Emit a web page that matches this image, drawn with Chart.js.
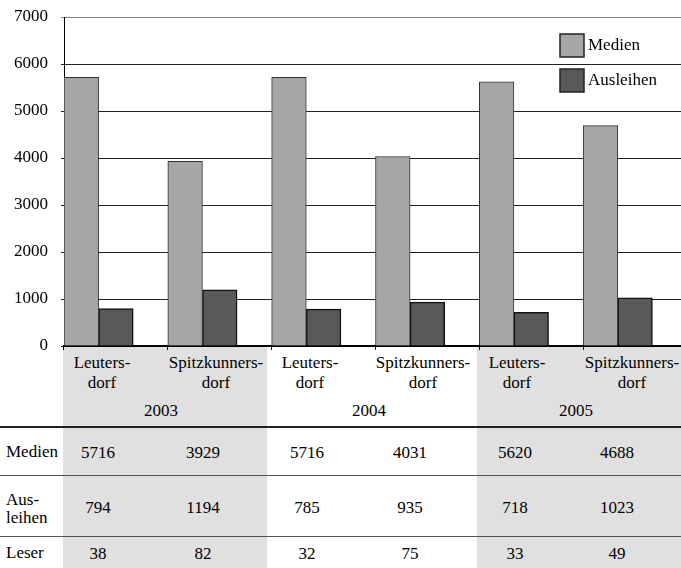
<!DOCTYPE html>
<html>
<head>
<meta charset="utf-8">
<script src="https://cdn.jsdelivr.net/npm/chart.js@4/dist/chart.umd.min.js"></script>
<style>
html,body{margin:0;padding:0;background:#fff;}
#wrap{position:relative;width:681px;height:568px;overflow:hidden;font-family:"Liberation Serif","Times New Roman",Times,Tinos,"Noto Serif","DejaVu Serif",FreeSerif,serif;font-size:17px;color:#000;}
#box{position:absolute;left:0;top:0;width:690px;height:568px;}
#tbl{position:absolute;left:0;top:0;width:681px;height:568px;pointer-events:none;}
.t{position:absolute;white-space:nowrap;line-height:19px;transform:translate(-50%,-50%);text-align:center;}
.l{position:absolute;white-space:nowrap;line-height:18px;transform:translateY(-50%);}
.shade{position:absolute;background:#e0e0e0;}
.hr{position:absolute;left:0;width:681px;}
</style>
</head>
<body>
<div id="wrap">
  <div id="tbl"></div>
  <div id="box"><canvas id="chart"></canvas></div>
</div>
<script>
// --- data ---
const places = ['Leuters-\ndorf', 'Spitzkunners-\ndorf', 'Leuters-\ndorf', 'Spitzkunners-\ndorf', 'Leuters-\ndorf', 'Spitzkunners-\ndorf'];
const years = ['2003', '2004', '2005'];
const medien = [5716, 3929, 5716, 4031, 5620, 4688];
const ausleihen = [794, 1194, 785, 935, 718, 1023];
const leser = [38, 82, 32, 75, 33, 49];
const rowNames = ['Medien', 'Aus-\nleihen', 'Leser'];
const yMax = 7000, yStep = 1000;

const FONT = '"Liberation Serif", "Times New Roman", Times, Tinos, "Noto Serif", "DejaVu Serif", FreeSerif, serif';

// --- table under the chart (plain html) ---
const tbl = document.getElementById('tbl');
function add(cls, html, style){
  const d = document.createElement('div');
  d.className = cls; d.innerHTML = html;
  Object.assign(d.style, style);
  tbl.appendChild(d);
  return d;
}
// shaded year blocks (2003, 2005)
add('shade', '', {left:'63px', top:'347px', width:'204px', height:'221px'});
add('shade', '', {left:'477px', top:'347px', width:'204px', height:'221px'});
// rules
add('hr', '', {top:'426px', height:'2px', background:'#222'});
add('hr', '', {top:'475px', height:'1px', background:'#555'});
add('hr', '', {top:'536px', height:'1px', background:'#555'});

const labelX = [102, 216, 310, 423, 517, 632];
const valueX = [98, 203, 307, 410, 515, 617];
const yearX = [161, 369, 576];
places.forEach((p, i) => {
  add('t', p.replace('\n', '<br>'), {left:labelX[i]+'px', top:'373px', lineHeight:'20px'});
});
years.forEach((y, i) => add('t', y, {left:yearX[i]+'px', top:'410px'}));

const rows = [medien, ausleihen, leser];
const rowY = [452, 507, 553];
rows.forEach((r, k) => {
  add('l', rowNames[k].replace('\n', '<br>'), {left:'6px', top:(rowY[k] + (k===1 ? 2 : 0))+'px'});
  r.forEach((v, i) => add('t', String(v), {left:valueX[i]+'px', top:rowY[k]+'px'}));
});

// --- legend drawn inside the plot ---
const boxLegend = {
  id: 'boxLegend',
  afterDraw(chart){
    const c = chart.ctx;
    c.save();
    c.font = '17px ' + FONT;
    c.textBaseline = 'middle';
    chart.data.datasets.slice(0, 2).forEach((ds, i) => {
      const y = 34 + i*35;
      c.fillStyle = ds.backgroundColor;
      c.fillRect(560, y, 24, 23);
      c.strokeStyle = '#222'; c.lineWidth = 1.5;
      c.strokeRect(560, y, 24, 23);
      c.fillStyle = '#000';
      c.fillText(ds.label, 588, y + 12);
    });
    c.restore();
  }
};

new Chart(document.getElementById('chart'), {
  type: 'bar',
  data: {
    labels: places,
    datasets: [
      {label:'Medien', data: medien, backgroundColor:'#a6a6a6', borderColor:'#333', borderWidth:1},
      {label:'Ausleihen', data: ausleihen, backgroundColor:'#595959', borderColor:'#111', borderWidth:1.5},
      // empty slot so each pair sits at the left of its category
      {label:'', data: places.map(() => null)}
    ]
  },
  options: {
    responsive: true, maintainAspectRatio: false, animation: false,
    layout: {padding: {top:17, left:0, right:3, bottom:0}},
    datasets: {bar: {categoryPercentage:1, barPercentage:1}},
    plugins: {legend:{display:false}, tooltip:{enabled:false}},
    scales: {
      x: {
        offset: true,
        grid: {offset:true, drawOnChartArea:false, drawTicks:true, tickLength:4, color:'#000'},
        border: {color:'#000', width:2},
        ticks: {display:false},
        afterFit(s){ s.height = 222; }
      },
      y: {
        min: 0, max: yMax,
        ticks: {stepSize: yStep, color:'#000', font: {family: FONT, size: 17}, padding: 13,
                callback: v => String(v)},
        grid: {color: c => c.tick && c.tick.value === yMax ? '#888' : '#222', tickLength: 3},
        border: {color:'#000', width:1},
        afterFit(s){ s.width = 64; s.paddingTop = 10; s.paddingBottom = 10; }
      }
    }
  },
  plugins: [boxLegend]
});
</script>
</body>
</html>
